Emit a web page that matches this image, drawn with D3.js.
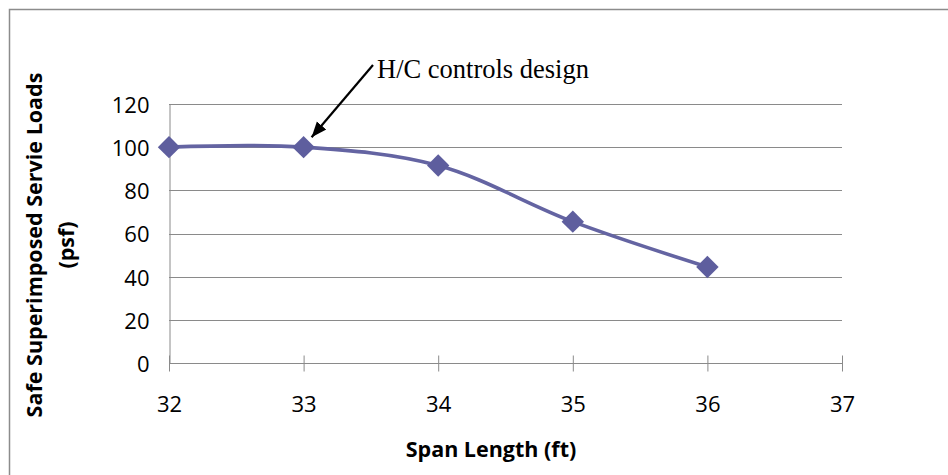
<!DOCTYPE html>
<html><head><meta charset="utf-8">
<script src="https://cdn.jsdelivr.net/npm/d3@7"></script>
<style>body{margin:0;background:#fff}svg{display:block}</style>
</head><body>
<script>
const spanLengths = [32, 33, 34, 35, 36];
const safeLoads = [100, 100, 91.5, 65.5, 44.5];
const xTicks = [32, 33, 34, 35, 36, 37];
const yTicks = [0, 20, 40, 60, 80, 100, 120];
const annotationText = "H/C controls design";
const xTitle = "Span Length (ft)";
const yTitleLines = ["Safe Superimposed Servie Loads", "(psf)"];

const W = 948, H = 475;
const svg = d3.select("body").append("svg").attr("width", W).attr("height", H);

// outer frame
svg.append("path").attr("d", `M9.5,${H} V9.5 H${W}`).attr("fill","none").attr("stroke","#8c8c8c").attr("stroke-width",1.5);

const x = d3.scaleLinear().domain([32, 37]).range([169, 842]);
const y = d3.scaleLinear().domain([0, 120]).range([363, 104]);

const sans = "'Open Sans', 'Liberation Sans', sans-serif";

// gridlines
svg.append("g").selectAll("line").data(yTicks.filter(d => d > 0)).join("line")
  .attr("x1", x(32)).attr("x2", x(37))
  .attr("y1", d => Math.round(y(d)) + 0.5).attr("y2", d => Math.round(y(d)) + 0.5)
  .attr("stroke", "#8a8a8a").attr("stroke-width", 1);

// y axis
const yAxis = svg.append("g").attr("transform", `translate(${x(32)+0.5},0)`)
  .call(d3.axisLeft(y).tickValues(yTicks).tickSize(0).tickPadding(20));
yAxis.select(".domain").attr("stroke", "#8a8a8a");
yAxis.selectAll("text").attr("font-family", sans).attr("font-size", 22).attr("fill", "#000").attr("dy", "0.38em");

// x axis
const xAxis = svg.append("g").attr("transform", `translate(0,${Math.round(y(0))+0.5})`)
  .call(d3.axisBottom(x).tickValues(xTicks).tickSize(8).tickPadding(25).tickFormat(d3.format("d")));
xAxis.select(".domain").attr("stroke", "#8a8a8a").attr("d", `M${x(32)},0H${x(37)}`);
xAxis.selectAll(".tick line").attr("stroke", "#8a8a8a").attr("y1", -8).attr("y2", 8);
xAxis.selectAll("text").attr("font-family", sans).attr("font-size", 22).attr("fill", "#000");

const pts = spanLengths.map((s, i) => [x(s), y(safeLoads[i])]);

// line
svg.append("path").datum(pts)
  .attr("d", d3.line().curve(d3.curveCatmullRom.alpha(0.5)))
  .attr("fill", "none").attr("stroke", "#6464A2").attr("stroke-width", 3.6);

// markers
svg.append("g").selectAll("path").data(pts).join("path")
  .attr("transform", d => `translate(${d[0]},${d[1]})`)
  .attr("d", d3.symbol().type(d3.symbolDiamond2).size(320))
  .attr("fill", "#5E5E9E");

// y title
const yTitleX = [42, 74];
yTitleLines.forEach((t, i) => {
  svg.append("text").attr("transform", `translate(${yTitleX[i]},245) rotate(-90)`)
    .attr("font-family", sans).attr("font-weight", "bold").attr("font-size", 21.5)
    .attr("text-anchor", "middle").text(t);
});

// x title
svg.append("text").attr("x", 491).attr("y", 457).attr("font-family", sans)
  .attr("font-weight", "bold").attr("font-size", 21.5).attr("text-anchor", "middle").text(xTitle);

// annotation
const defs = svg.append("defs");
defs.append("marker").attr("id", "ah").attr("viewBox", "0 0 10 10").attr("refX", 10).attr("refY", 5)
  .attr("markerWidth", 7).attr("markerHeight", 7).attr("orient", "auto").attr("markerUnits","strokeWidth")
  .append("path").attr("d", "M0,1 L10,5 L0,9 z").attr("fill", "#000");
const target = pts[1];
svg.append("line").attr("x1", 373).attr("y1", 65).attr("x2", target[0] + 8).attr("y2", target[1] - 10)
  .attr("stroke", "#000").attr("stroke-width", 2.2).attr("marker-end", "url(#ah)");
svg.append("text").attr("x", 377).attr("y", 78).attr("font-family", "'Liberation Serif', 'Times New Roman', serif")
  .attr("font-size", 26.5).attr("fill", "#000").text(annotationText);
</script>
</body></html>
